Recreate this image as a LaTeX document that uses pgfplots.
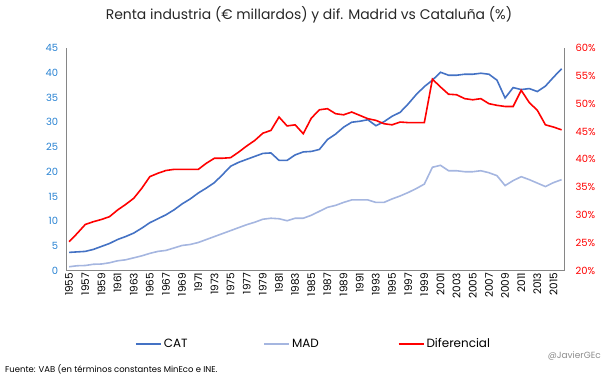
\documentclass[border=0pt]{standalone}
\usepackage{fontspec}
\setmainfont{Poppins}
\usepackage{pgfplots}
\pgfplotsset{compat=1.18}
\usepackage{pgfplotstable}

\definecolor{cat}{RGB}{68,114,196}
\definecolor{mad}{RGB}{165,182,224}
\definecolor{tickblue}{RGB}{40,130,210}
\definecolor{axgray}{RGB}{134,134,134}

\pgfplotstableread{
year cat mad dif
1955 3.7 0.8 25.2
1956 3.8 1.0 26.7
1957 3.9 1.05 28.3
1958 4.3 1.3 28.8
1959 4.9 1.35 29.2
1960 5.5 1.6 29.7
1961 6.3 2.0 30.9
1962 6.9 2.2 31.9
1963 7.6 2.6 33.0
1964 8.6 3.0 34.8
1965 9.7 3.5 36.9
1966 10.5 3.9 37.5
1967 11.3 4.1 38.0
1968 12.3 4.6 38.2
1969 13.5 5.1 38.2
1970 14.5 5.3 38.2
1971 15.7 5.7 38.2
1972 16.7 6.3 39.3
1973 17.8 6.9 40.2
1974 19.4 7.5 40.2
1975 21.1 8.1 40.3
1976 21.9 8.7 41.3
1977 22.5 9.3 42.4
1978 23.1 9.8 43.4
1979 23.7 10.4 44.7
1980 23.8 10.6 45.2
1981 22.3 10.5 47.6
1982 22.3 10.1 46.0
1983 23.4 10.6 46.2
1984 24.0 10.6 44.6
1985 24.1 11.2 47.4
1986 24.5 12.0 48.9
1987 26.5 12.8 49.1
1988 27.6 13.2 48.2
1989 29.0 13.8 48.0
1990 30.0 14.3 48.5
1991 30.2 14.3 47.9
1992 30.5 14.3 47.3
1993 29.3 13.8 47.0
1994 30.1 13.8 46.4
1995 31.2 14.5 46.2
1996 32.0 15.1 46.7
1997 33.7 15.8 46.6
1998 35.6 16.6 46.6
1999 37.2 17.5 46.6
2000 38.5 20.9 54.4
2001 40.1 21.3 53.0
2002 39.5 20.2 51.7
2003 39.5 20.2 51.6
2004 39.7 20.0 50.9
2005 39.7 20.0 50.7
2006 39.9 20.2 50.9
2007 39.7 19.8 50.0
2008 38.5 19.2 49.7
2009 34.9 17.2 49.5
2010 37.0 18.2 49.5
2011 36.6 19.0 52.4
2012 36.8 18.4 50.2
2013 36.2 17.7 48.8
2014 37.3 17.0 46.2
2015 39.1 17.8 45.8
2016 40.8 18.4 45.3
}\datatable

\begin{document}
\begin{tikzpicture}
\path[use as bounding box] (0,0) rectangle (609bp,378bp);
\pgfplotsset{every axis/.append style={
  scale only axis, width=497.3bp, height=222.7bp,
  xmin=1954.7, xmax=2016.3,
  at={(66.7bp,107.3bp)}, anchor=south west,
  /pgf/number format/assume math mode=true,
  /pgf/number format/1000 sep={},
  major tick length=0pt,
  axis line style={axgray, line width=0.8pt, -},
  tick label style={font=\fontsize{10}{10}\selectfont},
}}
\begin{axis}[
  ymin=0, ymax=45, ytick={0,5,...,45},
  axis y line*=left, axis x line*=bottom,
  xtick={1955,1957,...,2015},
  xticklabel style={rotate=90, anchor=east, font=\fontsize{10.5}{10.5}\selectfont, inner sep=2bp},
  yticklabel style={tickblue, xshift=-5bp},
]
\addplot[cat, line width=1.6pt] table[x=year,y=cat]{\datatable};
\addplot[mad, line width=1.6pt] table[x=year,y=mad]{\datatable};
\end{axis}
\begin{axis}[
  ymin=20, ymax=60, ytick={20,25,...,60},
  axis y line*=right, axis x line=none,
  yticklabel={\pgfmathprintnumber{\tick}\%},
  yticklabel style={red, xshift=8bp},
  legend columns=3,
  legend style={draw=none, inner sep=0pt, at={(0.1373,-0.329)}, anchor=west,
    font=\fontsize{12}{12}\selectfont,
    /tikz/column 2/.style={column sep=74bp},
    /tikz/column 4/.style={column sep=77bp},
    nodes={inner xsep=2bp}},
  legend image code/.code={\draw[#1] (0bp,0bp) -- (25bp,0bp);},
]
\addlegendimage{cat, line width=1.6pt}\addlegendentry{CAT}
\addlegendimage{mad, line width=1.6pt}\addlegendentry{MAD}
\addplot[red, line width=1.6pt] table[x=year,y=dif]{\datatable};
\addlegendentry{Diferencial}
\end{axis}
\node[text=black!85, font=\fontsize{14}{14}\selectfont] at (309bp,363bp) {Renta industria (€ millardos) y dif. Madrid vs Cataluña (\%)};
\node[anchor=west, font=\fontsize{8.5}{8.5}\selectfont, inner sep=0] at (5bp,9bp) {Fuente: VAB (en términos constantes MinEco e INE.};
\node[anchor=east, text=black!45, font=\fontsize{9}{9}\selectfont, inner sep=0] at (601bp,22bp) {@JavierGEc};
\end{tikzpicture}
\end{document}
